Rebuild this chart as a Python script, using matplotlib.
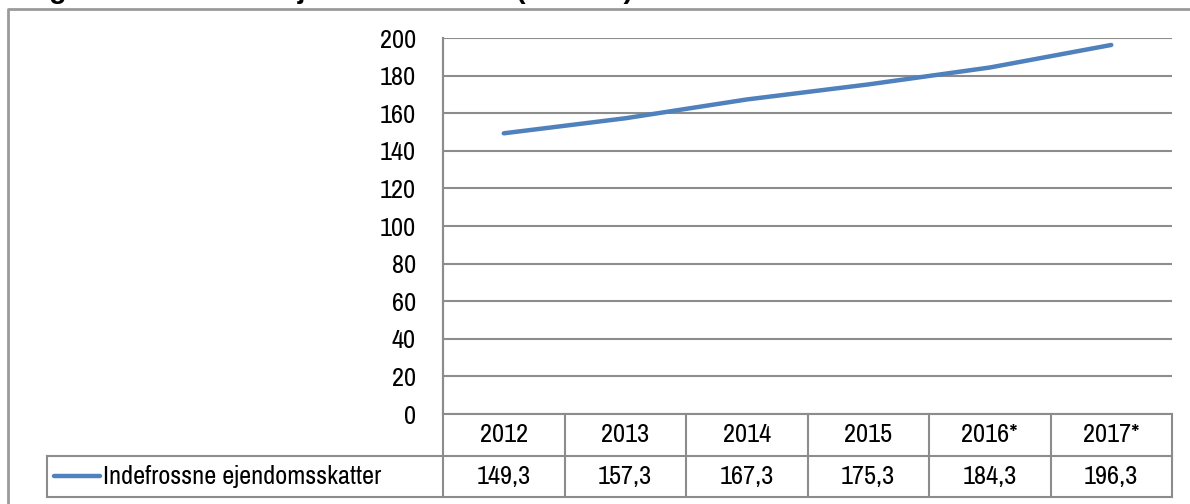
import os
import matplotlib
matplotlib.use("Agg")
import matplotlib.pyplot as plt
from matplotlib.lines import Line2D
from matplotlib import font_manager
from matplotlib.font_manager import FontProperties

years = ["2012", "2013", "2014", "2015", "2016*", "2017*"]
values = [149.3, 157.3, 167.3, 175.3, 184.3, 196.3]
value_labels = ["149,3", "157,3", "167,3", "175,3", "184,3", "196,3"]
series_name = "Indefrossne ejendomsskatter"
yticks = [0, 20, 40, 60, 80, 100, 120, 140, 160, 180, 200]
title = "Figur: Indefrossne ejendomsskatter (mia. kr.)"

FS = 19


def pick_font():
    files = [f.fname for f in font_manager.fontManager.ttflist]
    def ok(p):
        b = os.path.basename(p).lower()
        return not any(k in b for k in ["bold", "italic", "oblique", "light", "thin", "black", "medium"])
    prefs = [
        lambda b: "narrow" in b,
        lambda b: b == "dejavusanscondensed.ttf",
        lambda b: "condensed" in b and "sans" in b,
    ]
    for pr in prefs:
        for p in files:
            b = os.path.basename(p).lower()
            if pr(b) and ok(p):
                return FontProperties(fname=p, size=FS)
    return FontProperties(family="Roboto", size=FS)


FP = pick_font()

W, H = 1190, 504
fig = plt.figure(figsize=(W / 100, H / 100), dpi=100)


def fx(px):
    return px / W


def fy(py):
    return 1 - py / H


GRID = "#8c8c8c"
LINEC = "#4f81bd"

# plot area
L, R, T, B = 443, 1172, 38, 414
ax = fig.add_axes([fx(L), fy(B), fx(R) - fx(L), fy(T) - fy(B)])
n = len(years)
xs = [i + 0.5 for i in range(n)]
ax.plot(xs, values, color=LINEC, lw=3.2, solid_capstyle="round", zorder=3)
ax.set_xlim(0, n)
ax.set_ylim(0, 200)
ax.set_yticks(yticks)
ax.set_yticklabels([str(v) for v in yticks], fontproperties=FP)
ax.tick_params(axis="y", length=0, pad=19.5)
ax.set_xticks([])
for s in ["top", "right", "bottom"]:
    ax.spines[s].set_visible(False)
ax.spines["left"].set_color(GRID)
ax.spines["left"].set_linewidth(1.5)
ax.yaxis.grid(True, color=GRID, lw=1.5)
ax.set_axisbelow(True)

# data table
r1, r2, r3 = 414, 456, 497
colw = (R - L) / n
lines = []
lines.append(((L, R), (r1, r1)))
lines.append(((47, R), (r2, r2)))
lines.append(((47, R), (r3, r3)))
lines.append(((47, 47), (r2, r3)))
lines.append(((L, L), (T, r3)))
for i in range(1, n + 1):
    xb = L + i * colw
    lines.append(((xb, xb), (r1, r3)))
for (xa, xb2), (ya, yb) in lines:
    fig.add_artist(Line2D([fx(xa), fx(xb2)], [fy(ya), fy(yb)], color=GRID, lw=1.5))

for i in range(n):
    cx = L + (i + 0.5) * colw
    fig.text(fx(cx), fy((r1 + r2) / 2), years[i], ha="center", va="center", fontproperties=FP)
    fig.text(fx(cx), fy((r2 + r3) / 2), value_labels[i], ha="center", va="center", fontproperties=FP)

# legend key
fig.add_artist(Line2D([fx(54), fx(100)], [fy(476), fy(476)], color=LINEC, lw=3.2,
                      solid_capstyle="round"))
fig.text(fx(103), fy((r2 + r3) / 2), series_name, ha="left", va="center", fontproperties=FP)

# outer frame
fig.add_artist(Line2D([fx(8), fx(8), fx(1195)], [fy(510), fy(9), fy(9)], color="#9a9a9a", lw=2))

# title, cut off at the top edge as in the reference
fig.text(fx(24), fy(-2.0), title, ha="left", va="baseline", fontsize=20.5, fontweight="bold",
         family=["Liberation Sans", "DejaVu Sans"])

fig.savefig("out.png", dpi=100)
